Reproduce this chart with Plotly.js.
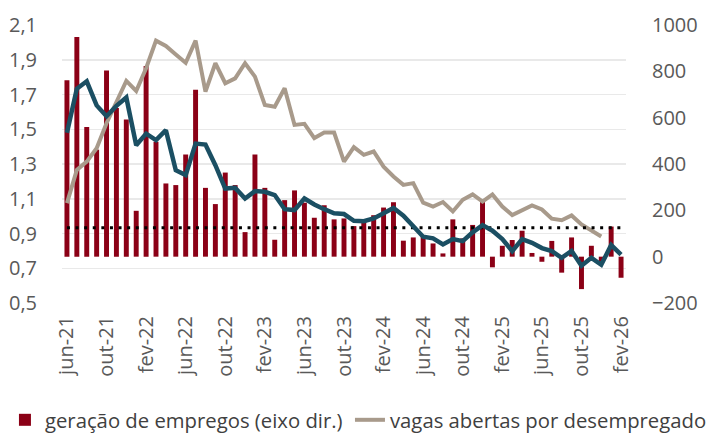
<!DOCTYPE html>
<html>
<head>
<meta charset="utf-8">
<script src="https://cdn.plot.ly/plotly-3.0.1.min.js"></script>
<style>html,body{margin:0;padding:0;background:#fff}#chart{width:707px;height:434px}</style>
</head>
<body>
<div id="chart"></div>
<script>
const meses = [
  "jun-21","jul-21","ago-21","set-21","out-21","nov-21","dez-21",
  "jan-22","fev-22","mar-22","abr-22","mai-22","jun-22","jul-22","ago-22","set-22","out-22","nov-22","dez-22",
  "jan-23","fev-23","mar-23","abr-23","mai-23","jun-23","jul-23","ago-23","set-23","out-23","nov-23","dez-23",
  "jan-24","fev-24","mar-24","abr-24","mai-24","jun-24","jul-24","ago-24","set-24","out-24","nov-24","dez-24",
  "jan-25","fev-25","mar-25","abr-25","mai-25","jun-25","jul-25","ago-25","set-25","out-25","nov-25","dez-25",
  "jan-26","fev-26"
];
const rotulosX = ["jun-21","out-21","fev-22","jun-22","out-22","fev-23","jun-23","out-23","fev-24","jun-24","out-24","fev-25","jun-25","out-25","fev-26"];

// geração de empregos (mil, eixo dir.)
const geracao = [
  761, 948, 560, 462, 804, 642, 592,
  198, 823, 496, 316, 309, 441, 721, 297, 227, 363, 309, 106,
  441, 297, 73, 244, 286, 233, 168, 222, 161, 165, 132, 161,
  179, 212, 235, 69, 83, 93, 57, 14, 161, 79, 137, 240,
  -46, 47, 72, 112, 16, -22, 68, -69, 83, -140, 47, -20,
  130, -91
];
// média móvel da geração de empregos (eixo dir.)
const mediaGeracao = [
  535, 725, 757, 653, 606, 651, 687,
  481, 531, 503, 546, 373, 352, 488, 484, 395, 294, 297, 251,
  283, 280, 266, 205, 201, 251, 225, 205, 187, 184, 155, 153,
  165, 187, 210, 177, 134, 86, 79, 53, 76, 67, 105, 136,
  112, 76, 24, 76, 60, 37, 24, -5, 25, -39, -5, -35,
  50, 9
];
// vagas abertas por desempregado (eixo esq.)
const vagas = [
  1.075, 1.266, 1.314, 1.391, 1.535, 1.659, 1.778,
  1.720, 1.851, 2.010, 1.979, 1.930, 1.883, 2.010, 1.717, 1.880, 1.765, 1.793, 1.880,
  1.803, 1.640, 1.630, 1.736, 1.525, 1.531, 1.449, 1.481, 1.481, 1.314, 1.397, 1.353,
  1.372, 1.285, 1.228, 1.180, 1.190, 1.078, 1.055, 1.081, 1.027, 1.094, 1.125, 1.084,
  1.125, 1.055, 1.006, 1.033, 1.062, 1.038, 0.985, 0.976, 1.004, 0.952, 0.916, 0.883,
  null, null
];
const referencia = 125;

const fonte = "Open Sans, Noto Sans, sans-serif";
const cinzaTexto = "#595959";

const traces = [
  {
    type: "bar", x: meses, y: geracao, yaxis: "y",
    name: "geração de empregos (eixo dir.)",
    marker: {color: "#8b0016"}, width: 0.5, showlegend: true, legend: "legend"
  },
  {
    type: "scatter", mode: "lines", x: meses, y: vagas, yaxis: "y2",
    name: "vagas abertas por desempregado",
    line: {color: "#a89a8b", width: 4}, connectgaps: false, legend: "legend2"
  },
  {
    type: "scatter", mode: "lines", x: [meses[0], meses[meses.length - 1]], y: [referencia, referencia], yaxis: "y3",
    name: "referência", showlegend: false,
    line: {color: "#000000", width: 3, dash: "3px,5.6px"}
  },
  {
    type: "scatter", mode: "lines", x: meses, y: mediaGeracao, yaxis: "y3",
    name: "média", showlegend: false,
    line: {color: "#1b4f63", width: 4.5}
  }
];

const fonteLegenda = {family: fonte, size: 20.3, color: "#404040"};

const layout = {
  width: 707, height: 434,
  margin: {l: 62, r: 81, t: 25, b: 131},
  paper_bgcolor: "#fff", plot_bgcolor: "#fff",
  font: {family: fonte, size: 20, color: cinzaTexto},
  separators: ",.",
  showlegend: true,
  bargap: 0.5,
  xaxis: {
    type: "category", categoryorder: "array", categoryarray: meses,
    tickmode: "array", tickvals: rotulosX, ticktext: rotulosX,
    tickangle: -90, showgrid: false, showline: false, zeroline: false,
    ticks: "", ticklabelstandoff: 8, automargin: false,
    tickfont: {family: fonte, size: 20, color: cinzaTexto}
  },
  yaxis: {
    side: "right", range: [-200, 1000], tickmode: "linear", tick0: -200, dtick: 200,
    showgrid: false, zeroline: false, showline: false, ticks: "",
    ticklabelstandoff: 25, automargin: false,
    tickfont: {family: fonte, size: 20, color: cinzaTexto}
  },
  yaxis2: {
    side: "left", overlaying: "y", range: [0.5, 2.1], tickmode: "linear", tick0: 0.5, dtick: 0.2,
    tickformat: ".1f", showgrid: true, gridcolor: "#e9e9e9", gridwidth: 1.5,
    zeroline: false, showline: false, ticks: "", ticklabelstandoff: 24, automargin: false,
    tickfont: {family: fonte, size: 20, color: cinzaTexto}
  },
  yaxis3: {
    side: "right", overlaying: "y", range: [-200, 1000], visible: false
  },
  legend: {
    orientation: "h", xref: "container", yref: "container",
    x: 0.007, xanchor: "left", y: 0.032, yanchor: "middle",
    font: fonteLegenda, itemwidth: 30, bgcolor: "rgba(0,0,0,0)"
  },
  legend2: {
    orientation: "h", xref: "container", yref: "container",
    x: 0.495, xanchor: "left", y: 0.032, yanchor: "middle",
    font: fonteLegenda, itemwidth: 30, bgcolor: "rgba(0,0,0,0)"
  }
};

Plotly.newPlot("chart", traces, layout, {displayModeBar: false, staticPlot: true});
</script>
</body>
</html>
